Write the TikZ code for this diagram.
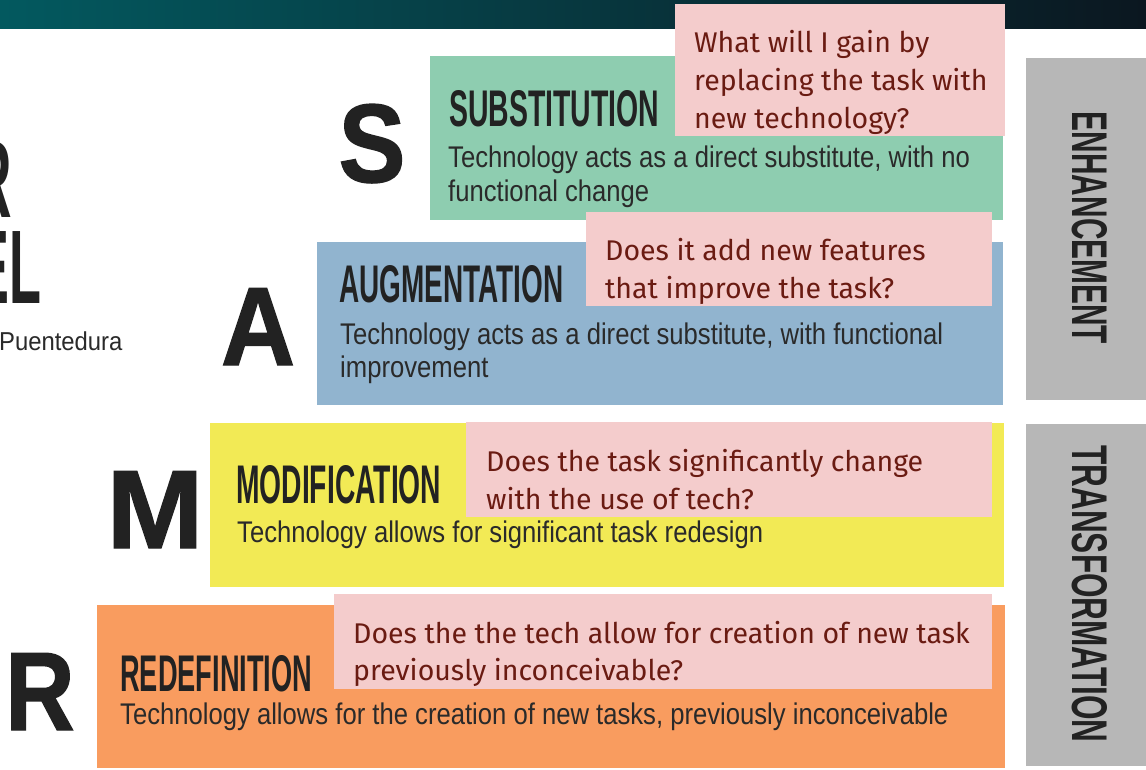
\documentclass[tikz,border=0pt]{standalone}
\usepackage{fontspec}
\usepackage{graphicx}
\setmainfont{Liberation Sans}
\newfontfamily\firafont{Fira Sans}
\definecolor{sgreen}{HTML}{8ECDB0}
\definecolor{ablue}{HTML}{91B4CF}
\definecolor{myellow}{HTML}{F2EA55}
\definecolor{rorange}{HTML}{F99C5F}
\definecolor{sgray}{HTML}{B7B7B7}
\definecolor{qpink}{HTML}{F4CCCC}
\definecolor{qtext}{HTML}{6A1B12}
\definecolor{dtext}{HTML}{2A2A2A}
\definecolor{ttext}{HTML}{222222}
\definecolor{barL}{HTML}{03595F}
\definecolor{barM}{HTML}{053A44}
\definecolor{barR}{HTML}{0B1720}
\newcommand\mydesc[1]{\scalebox{0.858}[1]{#1}}
\newcommand\mytitle[3]{\resizebox{#1}{#2}{\bfseries #3}}
\tikzset{
  panel/.style={rectangle, inner sep=0pt, outer sep=0pt, anchor=north west},
  qbox/.style={panel, fill=qpink},
  titletext/.style={anchor=base west, inner sep=0pt, text=ttext},
  desc/.style={anchor=base west, inner sep=0pt, text=dtext, font=\fontsize{30}{34}\selectfont},
  qline/.style={anchor=base west, inner sep=0pt, text=qtext, font=\firafont\fontsize{28.6}{37}\selectfont},
  bigletter/.style={anchor=base, inner sep=0pt, text=ttext, font=\fontsize{112}{112}\selectfont\bfseries\addfontfeature{FakeBold=1.2}},
  sidelabel/.style={rotate=-90, inner sep=0pt, text=ttext},
}
\begin{document}
\begin{tikzpicture}[x=1bp,y=-1bp]
\useasboundingbox (0,0) rectangle (1146,770);
\clip (0,0) rectangle (1146,770);
\fill[white] (0,0) rectangle (1146,770);
% top bar
\shade[left color=barL, middle color=barM, right color=barR] (0,0) rectangle (1146,29);

% left cut-off title
\node[anchor=base east, inner sep=0pt, text=ttext] (ttlR) at (12,217) {\scalebox{0.5}[1]{\fontsize{110}{110}\selectfont\bfseries R}};
\node[anchor=base east, inner sep=0pt, text=ttext] (ttlEL) at (42,303) {\scalebox{0.5}[1]{\fontsize{105}{105}\selectfont\bfseries EL}};
\node[anchor=base west, inner sep=0pt, text=dtext, font=\fontsize{26}{30}\selectfont] (author) at (-1,350) {\scalebox{0.92}[1]{Puentedura}};

% big letters
\node[bigletter] (bigS) at (372,182) {\scalebox{0.9}[1]{S}};
\node[bigletter] (bigA) at (258,365) {\scalebox{0.92}[1]{A}};
\node[bigletter] (bigM) at (155,548) {\scalebox{1.04}[1]{M}};
\node[bigletter] (bigR) at (40,730) {\scalebox{0.86}[1]{R}};

% coloured panels
\node[panel, fill=sgreen, minimum width=573bp, minimum height=164bp] (pS) at (430,56) {};
\node[panel, fill=ablue, minimum width=686bp, minimum height=163bp] (pA) at (317,242) {};
\node[panel, fill=myellow, minimum width=794bp, minimum height=164bp] (pM) at (210,423) {};
\node[panel, fill=rorange, minimum width=908bp, minimum height=163bp] (pR) at (97,605) {};

% grey side panels
\node[panel, fill=sgray, minimum width=130bp, minimum height=342bp] (gE) at (1026,58) {};
\node[panel, fill=sgray, minimum width=130bp, minimum height=342bp] (gT) at (1026,424) {};
\node[sidelabel] (lE) at (1090,228) {\mytitle{232bp}{35bp}{ENHANCEMENT}};
\node[sidelabel] (lT) at (1090,594) {\mytitle{297bp}{35bp}{TRANSFORMATION}};

% titles
\node[titletext] (tS) at (449,126) {\mytitle{210bp}{36bp}{SUBSTITUTION}};
\node[titletext] (tA) at (339,302) {\mytitle{224bp}{37bp}{AUGMENTATION}};
\node[titletext] (tM) at (236,503) {\mytitle{205bp}{38bp}{MODIFICATION}};
\node[titletext] (tR) at (120,691) {\mytitle{192bp}{36bp}{REDEFINITION}};

% descriptions
\node[desc] (dS1) at (448,167) {\mydesc{Technology acts as a direct substitute, with no}};
\node[desc] (dS2) at (448,201) {\mydesc{functional change}};
\node[desc] (dA1) at (340,344) {\mydesc{Technology acts as a direct substitute, with functional}};
\node[desc] (dA2) at (340,377) {\mydesc{improvement}};
\node[desc] (dM1) at (237,542) {\mydesc{Technology allows for significant task redesign}};
\node[desc] (dR1) at (120,724) {\mydesc{Technology allows for the creation of new tasks, previously inconceivable}};

% pink question boxes
\node[qbox, minimum width=330bp, minimum height=132bp] (q1) at (675,4) {};
\node[qline] (q1a) at (694,53) {What will I gain by};
\node[qline] (q1b) at (694,90.5) {replacing the task with};
\node[qline] (q1c) at (694,128) {new technology?};

\node[qbox, minimum width=406bp, minimum height=94bp] (q2) at (586,212) {};
\node[qline] (q2a) at (605,260) {Does it add new features};
\node[qline] (q2b) at (605,298) {that improve the task?};

\node[qbox, minimum width=526bp, minimum height=95bp] (q3) at (466,422) {};
\node[qline] (q3a) at (486,471) {Does the task significantly change};
\node[qline] (q3b) at (486,509) {with the use of tech?};

\node[qbox, minimum width=658bp, minimum height=95bp] (q4) at (334,594) {};
\node[qline] (q4a) at (353,643) {Does the the tech allow for creation of new task};
\node[qline] (q4b) at (353,680) {previously inconceivable?};
\end{tikzpicture}
\end{document}
